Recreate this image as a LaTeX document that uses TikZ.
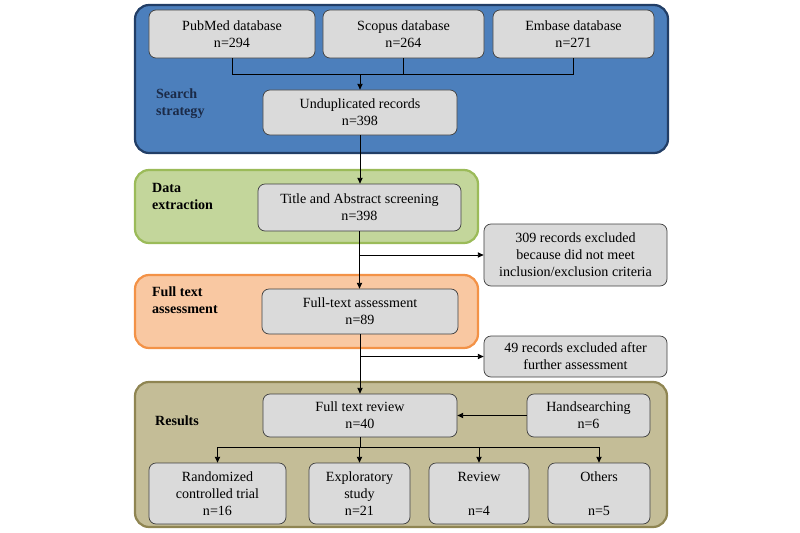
\documentclass[tikz,border=0pt]{standalone}
\usepackage{fontspec}
\setmainfont{Liberation Serif}
\usepackage{xcolor}
\usepackage{tikz}
\usetikzlibrary{calc,arrows.meta}
\definecolor{boxfill}{HTML}{DADADA}
\definecolor{boxdraw}{HTML}{404040}
\definecolor{bluefill}{HTML}{4C7FBC}
\definecolor{bluedraw}{HTML}{223E66}
\definecolor{greenfill}{HTML}{C3D69B}
\definecolor{greendraw}{HTML}{9BBB59}
\definecolor{orangefill}{HTML}{F9C8A2}
\definecolor{orangedraw}{HTML}{F39247}
\definecolor{tanfill}{HTML}{C4BD97}
\definecolor{tandraw}{HTML}{8F8552}
\definecolor{navytext}{HTML}{1B2A47}
\tikzset{
  panel/.style={line width=1.9pt, rounded corners=12pt},
  box/.style={draw=boxdraw, fill=boxfill, line width=0.6pt, rounded corners=6pt,
    align=center, inner sep=2pt, font=\fontsize{12}{14.5}\selectfont},
  conn/.style={draw=black, line width=0.8pt},
  arrow/.style={conn, -{Triangle[length=5pt,width=4.5pt]}},
  stage/.style={anchor=west, align=left, font=\fontsize{12}{14.5}\selectfont\bfseries}
}
\begin{document}
\begin{tikzpicture}[x=0.03cm, y=-0.03cm]
  \useasboundingbox (0,0) rectangle (800,533);

  % stage panels
  \draw[panel, draw=bluedraw, fill=bluefill] (135,5) rectangle (668,153);
  \draw[panel, draw=greendraw, fill=greenfill] (135,170) rectangle (478,243);
  \draw[panel, draw=orangedraw, fill=orangefill] (135,275) rectangle (478,348);
  \draw[panel, draw=tandraw, fill=tanfill] (135,382) rectangle (667,527);

  \node[stage, text=navytext] (lsearch) at (152,104) {Search\\strategy};
  \node[stage] (lextract) at (148,196) {Data\\extraction};
  \node[stage] (lassess) at (148,300) {Full text\\assessment};
  \node[stage] (lresults) at (151,421) {Results};

  % search strategy
  \node[box, minimum width=4.98cm, minimum height=1.44cm] (pubmed) at (232,34) {PubMed database\\n=294};
  \node[box, minimum width=4.83cm, minimum height=1.44cm] (scopus) at (403.5,34) {Scopus database\\n=264};
  \node[box, minimum width=4.83cm, minimum height=1.44cm] (embase) at (573.5,34) {Embase database\\n=271};
  \node[box, minimum width=5.82cm, minimum height=1.35cm] (undup) at (360,112.5) {Unduplicated records\\n=398};
  \coordinate (join) at (360,74);

  \draw[conn] (pubmed.south) |- (join);
  \draw[conn] (embase.south) |- (join);
  \draw[conn] (scopus.south) -- (scopus.south |- join);
  \draw[arrow] (join) -- (undup.north);

  % screening and assessment
  \node[box, minimum width=6.09cm, minimum height=1.41cm] (title) at (359.5,207.5) {Title and Abstract screening\\n=398};
  \node[box, minimum width=5.49cm, minimum height=1.86cm] (excla) at (575.5,255) {309 records excluded\\because did not meet\\inclusion/exclusion criteria};
  \node[box, minimum width=5.88cm, minimum height=1.35cm] (fulltext) at (360,311.5) {Full-text assessment\\n=89};
  \node[box, minimum width=5.49cm, minimum height=1.23cm] (exclb) at (575.5,356.5) {49 records excluded after\\further assessment};

  \draw[arrow] (undup.south) -- (undup.south |- title.north);
  \draw[arrow] (title.south) -- (title.south |- fulltext.north);
  \draw[arrow] (title.south |- excla.west) -- (excla.west);

  % results
  \node[box, minimum width=5.82cm, minimum height=1.29cm] (review40) at (360,415.5) {Full text review\\n=40};
  \node[box, minimum width=3.69cm, minimum height=1.29cm] (hand) at (588.5,415.5) {Handsearching\\n=6};
  \node[box, minimum width=4.11cm, minimum height=1.83cm] (rct) at (217.5,493.5) {Randomized\\controlled trial\\n=16};
  \node[box, minimum width=3.03cm, minimum height=1.83cm] (explor) at (359.5,493.5) {Exploratory\\study\\n=21};
  \node[box, minimum width=3.00cm, minimum height=1.83cm] (review) at (479,493.5) {Review\\~\\n=4};
  \node[box, minimum width=3.06cm, minimum height=1.83cm] (others) at (599,493.5) {Others\\~\\n=5};
  \coordinate (split) at (360,447);

  \draw[arrow] (fulltext.south) -- (fulltext.south |- review40.north);
  \draw[arrow] (fulltext.south |- exclb.west) -- (exclb.west);
  \draw[arrow] (hand.west) -- (review40.east);
  \draw[conn] (review40.south) -- (split);
  \foreach \n in {rct,explor,review,others}
    \draw[arrow] (split) -| (\n.north);
\end{tikzpicture}
\end{document}
